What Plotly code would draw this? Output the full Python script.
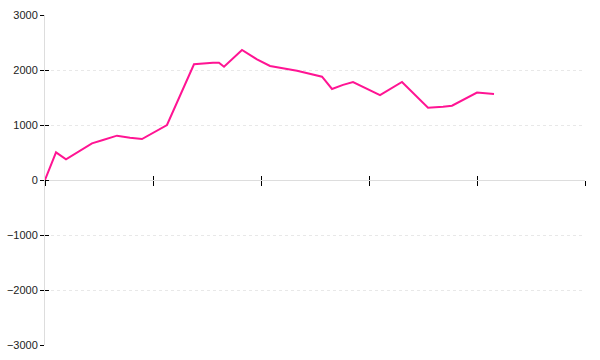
import plotly.graph_objects as go

# data
x_vals = [0, 2.04, 3.89, 8.70, 10.74, 13.33, 15.74, 17.96, 22.59, 27.59, 31.11, 32.22,
          33.15, 36.48, 39.26, 41.67, 46.67, 49.07, 51.30, 53.15, 55.19, 57.04, 62.04,
          66.11, 70.93, 73.70, 75.37, 80.0, 81.48, 83.15]
y_vals = [0, 503, 376, 667, 727, 806, 770, 745, 1000, 2104, 2133, 2133,
          2060, 2364, 2194, 2073, 1987, 1927, 1878, 1655, 1730, 1782, 1545,
          1782, 1315, 1333, 1351, 1590, 1582, 1564]
y_ticks = [-3000, -2000, -1000, 0, 1000, 2000, 3000]
x_ticks = [0, 20, 40, 60, 80, 100]

fig = go.Figure()
fig.add_trace(go.Scatter(x=x_vals, y=y_vals, mode="lines",
                         line=dict(color="#ff1493", width=2), hoverinfo="skip"))
# invisible trace on overlay axes so they render
fig.add_trace(go.Scatter(x=[x_vals[0]], y=[y_vals[0]], mode="markers", opacity=0,
                         xaxis="x2", yaxis="y2", hoverinfo="skip"))

font = dict(family="Liberation Sans, Arial, sans-serif", size=11, color="#222")

fig.update_layout(
    width=600, height=360,
    margin=dict(l=45, r=15, t=15, b=15, autoexpand=False),
    paper_bgcolor="white", plot_bgcolor="white",
    showlegend=False,
    font=font,
    xaxis=dict(range=[0, 100], tickvals=x_ticks, showticklabels=False,
               ticks="outside", ticklen=5, tickcolor="#000", tickwidth=1,
               showgrid=False, zeroline=False, showline=True, linecolor="#dddddd",
               linewidth=1, anchor="free", position=0.5, automargin=False),
    yaxis=dict(range=[-3000, 3000], tickvals=y_ticks,
               ticktext=[f"{v}".replace("-", "\u2212") for v in y_ticks],
               ticks="outside", ticklen=4, tickcolor="#000", tickwidth=1,
               showgrid=True, gridcolor="#e8e8e8", griddash="dot", gridwidth=1,
               zeroline=False, showline=True, linecolor="#dddddd", linewidth=1,
               tickfont=font, automargin=False),
    xaxis2=dict(overlaying="x", matches="x", range=[0, 100], tickvals=x_ticks,
                showticklabels=False, ticks="inside", ticklen=4, tickcolor="#000",
                tickwidth=1, showgrid=False, zeroline=False, showline=False,
                anchor="free", position=0.5, automargin=False),
    yaxis2=dict(overlaying="y", matches="y", range=[-3000, 3000], tickvals=y_ticks,
                showticklabels=False, ticks="inside", ticklen=4, tickcolor="#000",
                tickwidth=1, showgrid=False, zeroline=False, showline=False,
                anchor="x", side="left", automargin=False),
)

fig.write_html("out.html")
